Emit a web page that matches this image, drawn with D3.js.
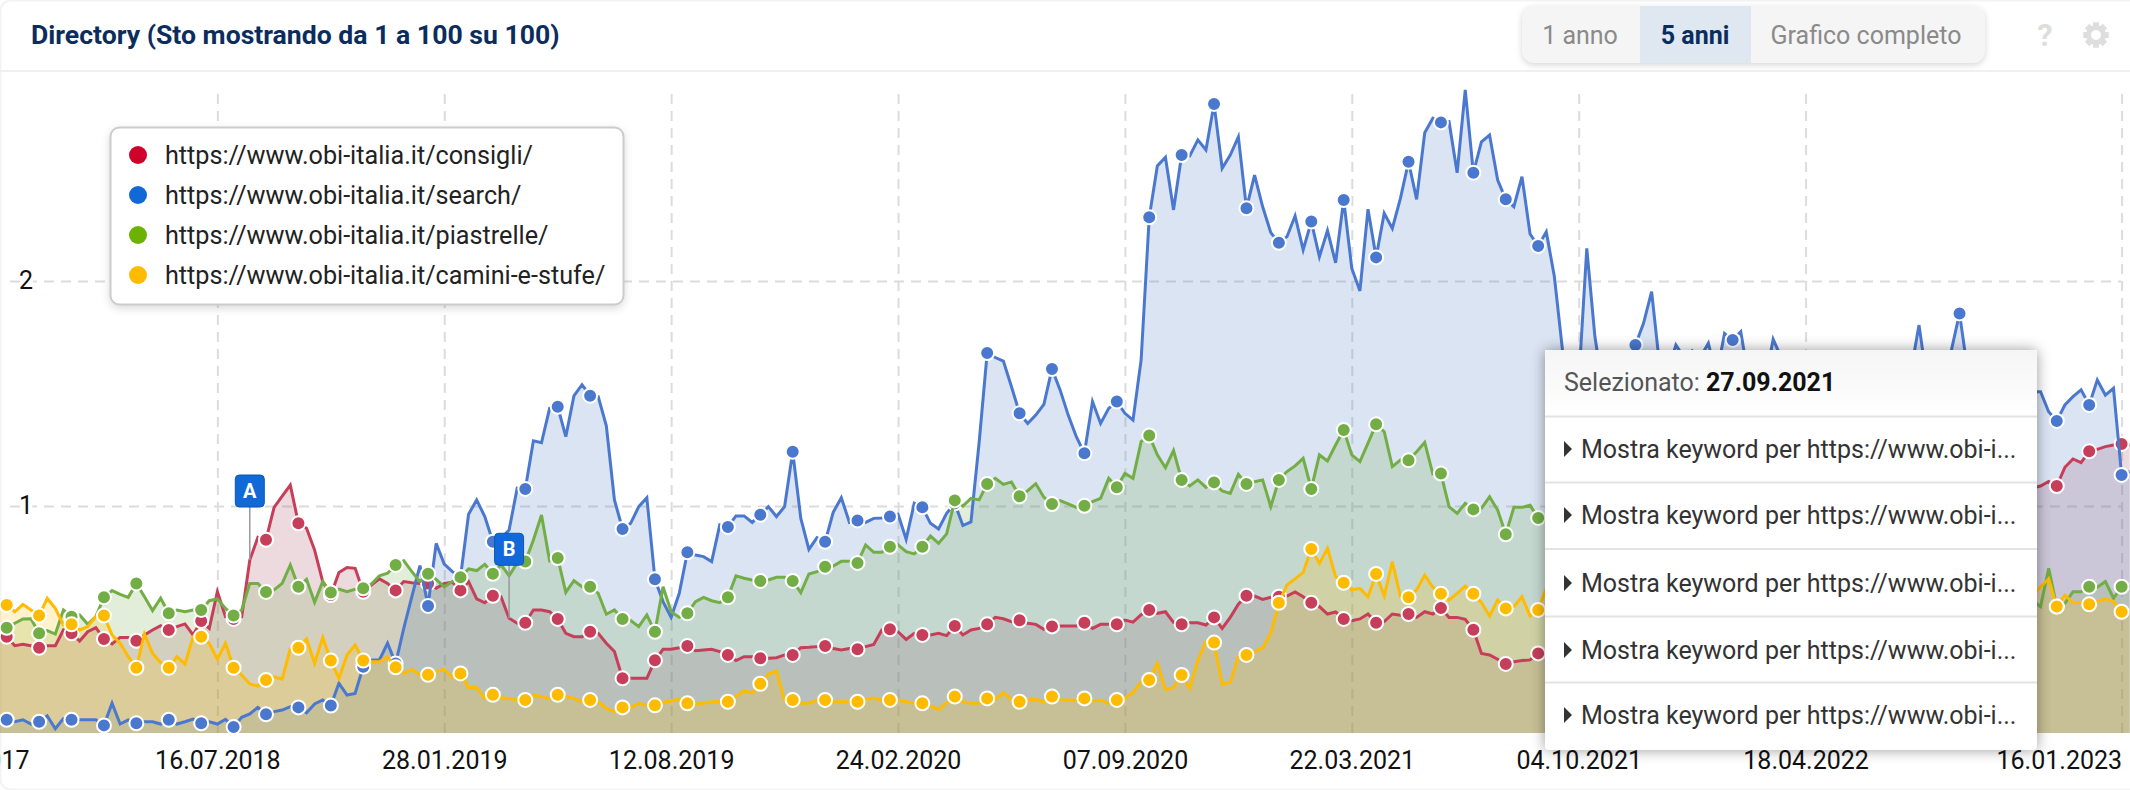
<!DOCTYPE html>
<html>
<head>
<meta charset="utf-8">
<script src="https://cdn.jsdelivr.net/npm/d3@7"></script>
<style>
  body { margin: 0; background: #fff; font-family: Roboto, sans-serif; }
  svg { display: block; }
  text { font-family: Roboto, sans-serif; }
</style>
</head>
<body>
<div id="chart"></div>
<script>
// Weekly values, first point is 08.01.2018, last point is 23.01.2023
var startDate = "08.01.2018";

var seriesNames = [
  "https://www.obi-italia.it/consigli/",
  "https://www.obi-italia.it/search/",
  "https://www.obi-italia.it/piastrelle/",
  "https://www.obi-italia.it/camini-e-stufe/"
];

var consigli = [
  .435,.419,.379,.385,.379,.370,.379,.379,.449,.434,
  .400,.441,.459,.409,.387,.416,.416,.401,.427,.449,
  .468,.449,.464,.476,.427,.489,.456,.619,.508,.498,
  .508,.760,.861,.850,.994,1.044,1.093,.923,.901,.804,
  .664,.604,.704,.727,.723,.619,.649,.676,.656,.625,
  .664,.659,.656,.656,.634,.656,.661,.625,.664,.587,
  .570,.601,.597,.501,.479,.481,.538,.538,.530,.498,
  .434,.419,.419,.441,.434,.390,.353,.234,.234,.234,
  .234,.314,.363,.363,.370,.378,.357,.360,.363,.353,
  .338,.313,.330,.330,.323,.323,.326,.338,.338,.370,
  .372,.375,.378,.367,.360,.367,.363,.375,.385,.449,
  .452,.441,.407,.434,.427,.427,.434,.424,.467,.427,
  .449,.456,.474,.505,.499,.486,.492,.479,.474,.452,
  .465,.467,.467,.467,.481,.456,.474,.474,.474,.493,
  .484,.517,.538,.523,.530,.483,.474,.481,.481,.471,
  .505,.456,.505,.564,.601,.600,.585,.594,.597,.600,
  .618,.597,.570,.553,.520,.529,.498,.490,.498,.520,
  .481,.486,.520,.514,.520,.505,.530,.520,.547,.505,
  .505,.496,.450,.345,.338,.319,.298,.308,.313,.316,
  .345,.34,.36,.38,.37,.40,.42,.41,.44,.46,
  .48,.50,.53,.52,.55,.58,.60,.59,.62,.64,
  .63,.66,.68,.70,.69,.72,.74,.73,.76,.78,
  .77,.80,.82,.81,.84,.85,.87,.86,.88,.90,
  .89,.91,.93,.92,.94,.96,.95,.97,.99,.98,
  1.00,1.02,1.01,1.03,1.05,1.04,1.06,1.07,1.05,1.08,
  1.07,1.08,1.089,1.109,1.089,1.172,1.209,1.193,1.243,1.252,
  1.264,1.271,1.276,1.271
];

var search = [
  .050,.050,.041,.050,.031,.041,.067,.010,.055,.050,
  .050,.050,.050,.025,.123,.031,.049,.034,.041,.041,
  .031,.050,.031,.041,.053,.034,.041,.031,.052,.018,
  .061,.076,.105,.074,.086,.093,.108,.105,.081,.120,
  .138,.113,.212,.160,.167,.286,.316,.316,.390,.300,
  .456,.597,.735,.556,.834,.742,.708,.683,.963,1.027,
  .953,.841,.856,.893,1.079,1.076,1.290,1.281,1.434,1.441,
  1.308,1.489,1.539,1.490,1.486,1.356,1.027,.898,.923,.997,
  1.037,.674,.575,.505,.612,.794,.782,.775,.753,.916,
  .907,.956,.956,.927,.961,.997,.953,.997,1.241,.945,
  .807,.859,.841,.972,1.037,.927,.936,.927,.945,.947,
  .953,.964,.852,1.012,.994,.923,.898,.967,1.012,.913,
  .929,1.279,1.68,1.66,1.644,1.530,1.412,1.367,1.404,1.452,
  1.609,1.516,1.404,1.308,1.234,1.464,1.367,1.434,1.464,1.412,
  1.382,1.649,2.283,2.511,2.550,2.316,2.560,2.556,2.627,2.582,
  2.787,2.501,2.560,2.641,2.323,2.471,2.330,2.215,2.170,2.197,
  2.289,2.138,2.264,2.108,2.224,2.081,2.360,2.056,1.956,2.319,
  2.105,2.301,2.234,2.367,2.530,2.363,2.659,2.723,2.705,2.708,
  2.481,2.849,2.481,2.619,2.649,2.449,2.363,2.330,2.464,2.209,
  2.156,2.219,2.019,1.693,1.30,1.55,2.145,1.753,1.52,1.45,
  1.50,1.60,1.716,1.812,1.953,1.62,1.60,1.716,1.66,1.69,
  1.66,1.723,1.58,1.767,1.738,1.775,1.56,1.50,1.55,1.741,
  1.66,1.60,1.55,1.50,1.45,1.52,1.48,1.55,1.50,1.46,
  1.52,1.58,1.50,1.48,1.54,1.56,1.60,1.804,1.55,1.50,
  1.60,1.693,1.856,1.60,1.50,1.45,1.52,1.48,1.50,1.46,
  1.50,1.508,1.508,1.419,1.378,1.449,1.486,1.516,1.449,1.560,
  1.493,1.523,1.138,1.153
];

var piastrelle = [
  .450,.459,.479,.498,.499,.434,.446,.431,.538,.508,
  .516,.474,.508,.594,.624,.607,.594,.656,.597,.535,
  .590,.523,.538,.530,.538,.538,.579,.587,.545,.513,
  .538,.656,.656,.618,.627,.656,.738,.641,.674,.572,
  .664,.616,.631,.619,.630,.634,.653,.690,.701,.738,
  .757,.708,.664,.699,.674,.641,.664,.683,.720,.713,
  .741,.699,.739,.690,.747,.753,.849,.960,.757,.769,
  .616,.668,.641,.641,.612,.519,.538,.498,.491,.464,
  .516,.441,.641,.530,.505,.523,.575,.594,.579,.570,
  .594,.690,.679,.671,.667,.671,.683,.683,.667,.615,
  .698,.708,.730,.733,.754,.754,.747,.827,.794,.794,
  .819,.827,.797,.787,.819,.867,.834,.876,1.025,1.000,
  1.034,1.027,1.098,1.123,1.096,1.107,1.043,1.068,1.099,1.039,
  1.009,1.024,1.009,.994,1.001,1.019,1.034,1.123,1.083,1.145,
  1.123,1.286,1.313,1.227,1.170,1.246,1.116,1.089,1.116,1.083,
  1.105,1.067,1.056,1.141,1.098,1.108,1.116,.997,1.116,1.153,
  1.178,1.212,1.076,1.227,1.200,1.271,1.338,1.227,1.197,1.279,
  1.363,1.330,1.175,1.204,1.203,1.241,1.283,1.142,1.144,.997,
  .967,1.012,.985,.990,1.041,.982,.874,.994,.994,1.003,
  .947,.93,.90,.92,.88,.84,.86,.82,.85,.80,
  .78,.82,.79,.76,.78,.74,.77,.73,.75,.71,
  .74,.70,.72,.69,.71,.67,.70,.66,.69,.65,
  .68,.64,.67,.63,.66,.62,.65,.61,.64,.60,
  .63,.62,.59,.64,.60,.62,.58,.61,.63,.59,
  .62,.57,.60,.62,.58,.60,.56,.59,.61,.57,
  .60,.58,.553,.723,.553,.567,.619,.619,.641,.639,
  .664,.590,.641,.644
];

var caminiStufe = [
  .575,.560,.530,.563,.538,.513,.590,.545,.471,.474,
  .449,.464,.508,.513,.427,.390,.330,.281,.431,.345,
  .304,.281,.330,.298,.419,.419,.390,.319,.390,.281,
  .249,.209,.200,.227,.241,.231,.367,.370,.409,.301,
  .416,.313,.234,.338,.382,.313,.308,.308,.330,.283,
  .256,.274,.249,.250,.264,.274,.239,.256,.193,.193,
  .145,.161,.148,.145,.138,.138,.160,.153,.145,.161,
  .153,.145,.130,.138,.130,.101,.086,.105,.105,.123,
  .116,.114,.128,.133,.142,.123,.120,.123,.130,.130,
  .130,.153,.179,.170,.210,.253,.267,.138,.138,.123,
  .123,.138,.138,.130,.130,.130,.130,.141,.147,.138,
  .138,.138,.130,.123,.123,.111,.096,.126,.153,.130,
  .123,.123,.145,.141,.170,.141,.130,.138,.141,.130,
  .153,.138,.138,.138,.145,.133,.138,.123,.138,.145,
  .172,.219,.227,.301,.185,.194,.249,.190,.316,.397,
  .393,.209,.216,.333,.338,.353,.370,.434,.570,.649,
  .676,.705,.809,.745,.812,.686,.659,.627,.634,.597,
  .698,.600,.753,.597,.594,.627,.693,.639,.610,.582,
  .612,.644,.610,.570,.511,.582,.545,.553,.597,.511,
  .538,.634,.60,.57,.55,.58,.54,.56,.59,.55,
  .53,.56,.58,.54,.57,.55,.52,.56,.59,.54,
  .57,.53,.55,.58,.56,.52,.55,.57,.54,.58,
  .55,.53,.56,.59,.54,.57,.55,.52,.56,.58,
  .54,.56,.53,.57,.59,.55,.52,.56,.58,.54,
  .56,.53,.57,.55,.59,.54,.56,.58,.53,.57,
  .55,.60,.641,.676,.553,.604,.570,.570,.563,.575,
  .587,.575,.530,.530
];

var xTickLabels = ["11.12.2017", "16.07.2018", "28.01.2019", "12.08.2019", "24.02.2020",
  "07.09.2020", "22.03.2021", "04.10.2021", "18.04.2022", "16.01.2023"];
var yTickValues = [1, 2];

// Markers sit on every 4th week, with one 5 week step in late 2019
var markerIndex = d3.range(1, 86, 4).concat(d3.range(90, 263, 4));

var lineColors = ["#c63e5a", "#4b78cf", "#72ae45", "#ffbb00"];
var fillColors = ["#a5465f", "#4b78c3", "#6eaa46", "#ffc000"];
var legendColors = ["#d0022b", "#1169d8", "#6cb300", "#ffbb00"];

var flags = [
  { label: "A", index: 31 },
  { label: "B", index: 63 }
];

var tooltipDate = "27.09.2021";
var tooltipRow = "Mostra keyword per https://www.obi-i...";

// SVG area
var svg__Width = 2130;
var svg__Height = 790;
var plot__Top = 90;
var plot__Bottom = 733;

var svg = d3.select("#chart")
  .append("svg")
  .attr("width", svg__Width)
  .attr("height", svg__Height);

svg.append("rect")
  .attr("x", 0.5).attr("y", 0.5)
  .attr("width", svg__Width + 20).attr("height", svg__Height - 1)
  .attr("rx", 10)
  .attr("fill", "#fff")
  .attr("stroke", "#f3f3f3")
  .attr("stroke-width", 2);

// Scales, dates are weekly
var parseDate = d3.utcParse("%d.%m.%Y");
var formatDate = d3.utcFormat("%d.%m.%Y");
var dates = consigli.map(function(d, i) {
  return d3.utcDay.offset(parseDate(startDate), i * 7);
});

var xTime__Scale = d3.scaleUtc()
  .domain([dates[0], dates[dates.length - 1]])
  .range([-1.4, 2129.7]);

var yLinear__Scale = d3.scaleLinear()
  .domain([0, 2])
  .range([731, 281]);

// Grid lines come from the axes
var bottom__Axis = d3.axisBottom(xTime__Scale)
  .tickValues(xTickLabels.map(parseDate))
  .tickFormat(formatDate)
  .tickSize(-(plot__Bottom - plot__Top))
  .tickPadding(18);

var left__Axis = d3.axisLeft(yLinear__Scale)
  .tickValues(yTickValues)
  .tickFormat(d3.format("d"))
  .tickSize(-2111);

var xGroup = svg.append("g")
  .attr("transform", "translate(0," + plot__Bottom + ")")
  .call(bottom__Axis);

var yGroup = svg.append("g")
  .attr("transform", "translate(10,0)")
  .call(left__Axis);

[xGroup, yGroup].forEach(function(axis) {
  axis.select(".domain").remove();
  axis.selectAll("line")
    .attr("stroke", "#dcdcdc")
    .attr("stroke-width", 2)
    .attr("stroke-dasharray", "10 7");
  axis.selectAll("text")
    .attr("fill", "#111")
    .style("font-size", "25px")
    .style("font-family", "Roboto, sans-serif");
});

yGroup.selectAll("text")
  .attr("x", 16)
  .attr("dy", "0.28em")
  .attr("text-anchor", "middle")
  .attr("stroke", "#fff")
  .attr("stroke-width", 8)
  .attr("paint-order", "stroke");

// The last date label is pulled in so it stays inside the chart
xGroup.selectAll(".tick:last-of-type text")
  .attr("text-anchor", "end");

// Areas first, then lines and markers on top of all of them
svg.append("clipPath").attr("id", "plotClip")
  .append("rect")
  .attr("x", 0).attr("y", 70)
  .attr("width", svg__Width).attr("height", plot__Bottom - 70);

var series = [consigli, search, piastrelle, caminiStufe];

var chart__Group = svg.append("g").attr("clip-path", "url(#plotClip)");

var area = d3.area()
  .x(function(d, i) { return xTime__Scale(dates[i]); })
  .y0(plot__Bottom)
  .y1(function(d) { return yLinear__Scale(d); });

var line = d3.line()
  .x(function(d, i) { return xTime__Scale(dates[i]); })
  .y(function(d) { return yLinear__Scale(d); });

series.forEach(function(values, s) {
  chart__Group.append("path")
    .attr("d", area(values))
    .attr("fill", fillColors[s])
    .attr("fill-opacity", 0.2);
});

series.forEach(function(values, s) {
  var group = chart__Group.append("g");

  group.append("path")
    .attr("d", line(values))
    .attr("fill", "none")
    .attr("stroke", lineColors[s])
    .attr("stroke-width", 3);

  group.selectAll("circle")
    .data(markerIndex)
    .enter()
    .append("circle")
    .attr("cx", function(i) { return xTime__Scale(dates[i]); })
    .attr("cy", function(i) { return yLinear__Scale(values[i]); })
    .attr("r", 7)
    .attr("fill", lineColors[s])
    .attr("stroke", "#fff")
    .attr("stroke-width", 2);
});

// Flags A and B stand on the first series
var flag__Group = svg.selectAll(".flag")
  .data(flags)
  .enter()
  .append("g")
  .attr("class", "flag")
  .attr("transform", function(d) {
    return "translate(" + xTime__Scale(dates[d.index]) + "," + yLinear__Scale(consigli[d.index]) + ")";
  });

flag__Group.append("line")
  .attr("y1", 0).attr("y2", -53)
  .attr("stroke", "#999")
  .attr("stroke-width", 1.5);

flag__Group.append("rect")
  .attr("x", -14.5).attr("y", -85)
  .attr("width", 29).attr("height", 32)
  .attr("rx", 4)
  .attr("fill", "#1169d8")
  .attr("stroke", "#0b57b0")
  .attr("stroke-width", 1);

flag__Group.append("text")
  .attr("y", -69)
  .attr("dy", "0.35em")
  .attr("text-anchor", "middle")
  .attr("fill", "#fff")
  .style("font-size", "20px")
  .style("font-weight", 700)
  .text(function(d) { return d.label; });

// Header
svg.append("text")
  .attr("x", 31).attr("y", 35)
  .attr("dy", "0.35em")
  .attr("fill", "#0b2d5e")
  .style("font-size", "26.6px")
  .style("font-weight", 700)
  .text("Directory (Sto mostrando da 1 a 100 su 100)");

svg.append("line")
  .attr("x1", 0).attr("x2", svg__Width)
  .attr("y1", 71).attr("y2", 71)
  .attr("stroke", "#f0f0f0")
  .attr("stroke-width", 2);

// Range buttons
var button__Group = svg.append("g");

button__Group.append("rect")
  .attr("x", 1522).attr("y", 6)
  .attr("width", 463).attr("height", 57)
  .attr("rx", 12)
  .attr("fill", "#f5f5f5")
  .style("filter", "drop-shadow(0 2px 3px rgba(0,0,0,0.16))");

button__Group.append("rect")
  .attr("x", 1640).attr("y", 6)
  .attr("width", 111).attr("height", 57)
  .attr("fill", "#dfe7f1");

var buttons = [
  { text: "1 anno", x: 1580, color: "#8a8a8a", weight: 400 },
  { text: "5 anni", x: 1695, color: "#0b2d5e", weight: 700 },
  { text: "Grafico completo", x: 1866, color: "#8a8a8a", weight: 400 }
];

button__Group.selectAll("text")
  .data(buttons)
  .enter()
  .append("text")
  .attr("x", function(d) { return d.x; })
  .attr("y", 35)
  .attr("dy", "0.35em")
  .attr("text-anchor", "middle")
  .attr("fill", function(d) { return d.color; })
  .style("font-size", "25px")
  .style("font-weight", function(d) { return d.weight; })
  .text(function(d) { return d.text; });

svg.append("text")
  .attr("x", 2045).attr("y", 35)
  .attr("dy", "0.35em")
  .attr("text-anchor", "middle")
  .attr("fill", "#dedede")
  .style("font-size", "31px")
  .style("font-weight", 700)
  .text("?");

// Gear icon
var gear = svg.append("g").attr("transform", "translate(2096,35)");
gear.selectAll("rect")
  .data(d3.range(8))
  .enter()
  .append("rect")
  .attr("x", -3).attr("y", -12.5)
  .attr("width", 6).attr("height", 25)
  .attr("fill", "#dedede")
  .attr("transform", function(d) { return "rotate(" + d * 45 + ")"; });
gear.append("circle")
  .attr("r", 7.5)
  .attr("fill", "#fff")
  .attr("stroke", "#dedede")
  .attr("stroke-width", 5);

// Legend
var legend__Group = svg.append("g");

legend__Group.append("rect")
  .attr("x", 110.5).attr("y", 127.5)
  .attr("width", 513).attr("height", 177)
  .attr("rx", 9)
  .attr("fill", "#fff")
  .attr("stroke", "#cccccc")
  .attr("stroke-width", 2)
  .style("filter", "drop-shadow(0 3px 4px rgba(0,0,0,0.14))");

var legendItems = legend__Group.selectAll(".item")
  .data(seriesNames)
  .enter()
  .append("g")
  .attr("class", "item")
  .attr("transform", function(d, i) { return "translate(138," + (155 + i * 40) + ")"; });

legendItems.append("circle")
  .attr("r", 9)
  .attr("fill", function(d, i) { return legendColors[i]; });

legendItems.append("text")
  .attr("x", 27)
  .attr("dy", "0.35em")
  .attr("fill", "#222")
  .style("font-size", "25.2px")
  .text(function(d) { return d; });

// Tooltip panel
var defs = svg.append("defs");
var headGradient = defs.append("linearGradient")
  .attr("id", "tipHead")
  .attr("x1", 0).attr("x2", 0).attr("y1", 0).attr("y2", 1);
headGradient.append("stop").attr("offset", "0%").attr("stop-color", "#f5f5f5");
headGradient.append("stop").attr("offset", "100%").attr("stop-color", "#ffffff");

var tip__Group = svg.append("g");

tip__Group.append("rect")
  .attr("x", 1545).attr("y", 350)
  .attr("width", 492).attr("height", 400)
  .attr("rx", 4)
  .attr("fill", "#fff")
  .style("filter", "drop-shadow(0 0 7px rgba(0,0,0,0.4))");

tip__Group.append("rect")
  .attr("x", 1545).attr("y", 350)
  .attr("width", 492).attr("height", 66)
  .attr("fill", "url(#tipHead)");

var tipHead = tip__Group.append("text")
  .attr("x", 1564).attr("y", 382)
  .attr("dy", "0.35em")
  .attr("fill", "#555")
  .style("font-size", "25px");
tipHead.append("tspan").text("Selezionato: ");
tipHead.append("tspan")
  .attr("fill", "#111")
  .style("font-weight", 700)
  .text(tooltipDate);

var rowCenters = [449, 515, 583, 650, 715];
var rowLines = [416.5, 482.5, 549, 616.5, 682.5];

tip__Group.selectAll(".sep")
  .data(rowLines)
  .enter()
  .append("line")
  .attr("class", "sep")
  .attr("x1", 1545).attr("x2", 2037)
  .attr("y1", function(d) { return d; })
  .attr("y2", function(d) { return d; })
  .attr("stroke", "#e3e3e3")
  .attr("stroke-width", 2);

var rows = tip__Group.selectAll(".row")
  .data(rowCenters)
  .enter()
  .append("g")
  .attr("class", "row")
  .attr("transform", function(d) { return "translate(0," + d + ")"; });

rows.append("path")
  .attr("d", "M1564,-8L1572,0L1564,8Z")
  .attr("fill", "#333");

rows.append("text")
  .attr("x", 1581)
  .attr("dy", "0.35em")
  .attr("fill", "#333")
  .style("font-size", "25px")
  .text(tooltipRow);
</script>
</body>
</html>
